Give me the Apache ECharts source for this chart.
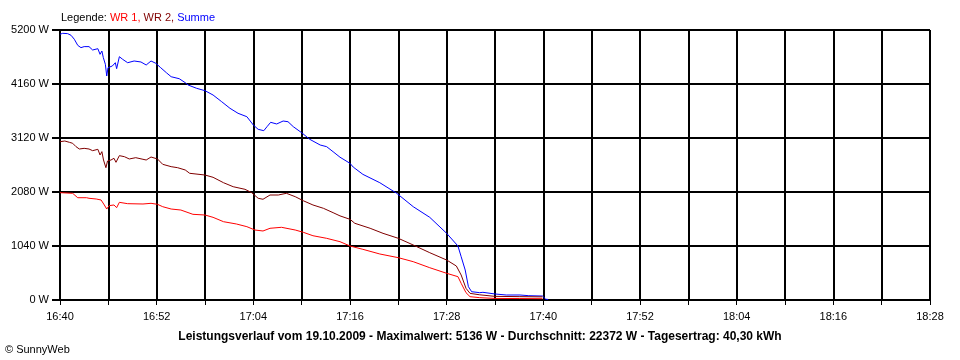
<!DOCTYPE html>
<html>
<head>
<meta charset="utf-8">
<script src="https://cdn.jsdelivr.net/npm/echarts@6/dist/echarts.min.js"></script>
<style>
html,body{margin:0;padding:0;background:#fff;}
#chart{width:960px;height:360px;}
</style>
</head>
<body>
<div id="chart"></div>
<script>
// Minutes after 16:40
var startMinutes = 16 * 60 + 40;
var xMin = 0, xMax = 108, xStep = 6, xLabelStep = 12;
var yTicks = [0, 1040, 2080, 3120, 4160, 5200];

var wr1Times = [0,1.57,2.2,3.3,3.6,4.5,5.1,5.5,5.8,6.1,6.7,7.03,7.37,8.4,10.3,11.3,12.1,12.75,13.8,15,16.5,18,19,20.3,21.9,23.2,24.2,25.2,26.07,27.5,29.2,30.2,31.4,33.1,34.76,36,37.6,39.7,42,43.85,45.9,48,49.4,49.8,50.4,50.9,52.1,54,57,59.9];
var wr1Values = [2067,2055,1970,1970,1959,1945,1926,1830,1752,1817,1830,1778,1881,1855,1849,1862,1843,1797,1752,1733,1650,1637,1592,1508,1464,1412,1348,1329,1381,1400,1348,1304,1238,1188,1123,1040,976,886,815,738,622,514,449,321,141,64,45,30,28,25];

var wr2Times = [0,0.6,1.16,1.57,1.99,2.4,3.0,3.6,4.05,4.7,4.97,5.2,5.4,5.7,5.9,6.33,6.7,6.95,7.37,8.0,8.6,9.4,10.3,10.7,11.3,12.1,12.75,13.8,14.6,15.55,16.1,18,19,20.3,21.5,22.96,23.8,24.6,25.2,26.07,27.1,28.1,29.2,30.2,31.4,32.7,33.9,34.76,36,36.6,38.5,40.1,42,43.85,45.9,48,49.2,49.8,50.4,50.9,52.1,54,57,59.9];
var wr2Values = [3049,3062,3037,3018,2953,2908,2921,2908,2876,2902,2793,2857,2696,2548,2677,2696,2729,2652,2780,2760,2716,2741,2710,2696,2754,2716,2613,2568,2548,2504,2440,2407,2363,2259,2182,2132,2067,1959,1940,2022,2022,2055,1990,1912,1830,1766,1682,1620,1554,1477,1381,1284,1188,1059,911,770,655,481,225,128,100,70,65,60];

var sumTimes = [0,0.33,0.95,1.37,1.78,2.2,2.6,3.0,3.6,4.05,4.7,4.97,5.2,5.38,5.63,5.8,5.96,6.12,6.5,6.87,7.03,7.37,7.78,8.4,9.2,10.05,10.7,11.3,11.9,12.5,13.2,13.8,14.0,14.8,15.55,15.9,16.96,18,19,20.07,21.1,22.1,23.2,24,24.6,24.8,25.3,25.7,26.15,26.9,27.7,28.3,28.96,30,31,32.3,33.1,33.9,34.76,36,36.4,37.6,39.7,41.8,43.85,45.9,48,49.4,49.8,50.3,50.7,51.1,52.1,52.5,54,55.4,57.1,58.2,59.9,60.3,60.6];
var sumValues = [5117,5136,5130,5098,5021,4905,4860,4880,4880,4815,4840,4732,4795,4667,4540,4314,4474,4493,4507,4570,4455,4686,4635,4570,4603,4584,4526,4603,4558,4474,4378,4300,4320,4262,4185,4141,4077,4031,3948,3819,3692,3596,3530,3370,3287,3300,3261,3338,3422,3390,3447,3434,3338,3222,3095,2985,2953,2856,2750,2632,2560,2420,2259,2055,1797,1592,1284,1040,834,578,256,160,141,148,116,96,96,83,77,15,10];

var legendPrefix = 'Legende: ';
var seriesNames = ['WR 1', 'WR 2', 'Summe'];
var seriesColors = ['#ff0000', '#800000', '#0000ff'];
var footerText = 'Leistungsverlauf vom 19.10.2009 - Maximalwert: 5136 W - Durchschnitt: 22372 W - Tagesertrag: 40,30 kWh';
var copyrightText = '\u00a9 SunnyWeb';

function pairs(t, v) { return t.map(function (x, i) { return [x, v[i]]; }); }
function fmtTime(m) {
  var tot = startMinutes + m;
  var h = Math.floor(tot / 60), mm = Math.round(tot % 60);
  return h + ':' + (mm < 10 ? '0' : '') + mm;
}

var FONT = '"Liberation Sans", Arial, sans-serif';
var chart = echarts.init(document.getElementById('chart'), null, {renderer: 'canvas'});

function mkSeries(name, color, t, v) {
  return {
    name: name, type: 'line', data: pairs(t, v), showSymbol: false, symbol: 'none',
    lineStyle: {color: color, width: 1}, itemStyle: {color: color}, animation: false, step: false
  };
}

chart.setOption({
  animation: false,
  backgroundColor: '#ffffff',
  grid: {left: 60, right: 30, top: 30, bottom: 60, containLabel: false},
  title: [{
    left: 61, top: 12, padding: 0,
    text: '{k|' + legendPrefix + '}{a|' + seriesNames[0] + ', }{b|' + seriesNames[1] + ', }{c|' + seriesNames[2] + '}',
    textStyle: {
      fontFamily: FONT, fontSize: 11, fontWeight: 'normal',
      rich: {
        k: {color: '#000', fontFamily: FONT, fontSize: 11},
        a: {color: seriesColors[0], fontFamily: FONT, fontSize: 11},
        b: {color: seriesColors[1], fontFamily: FONT, fontSize: 11},
        c: {color: seriesColors[2], fontFamily: FONT, fontSize: 11}
      }
    }
  }, {
    left: 480, textAlign: 'center', top: 331, padding: 0,
    text: footerText,
    textStyle: {fontFamily: FONT, fontSize: 12, fontWeight: 'bold', color: '#000'}
  }, {
    left: 5, top: 344, padding: 0,
    text: copyrightText,
    textStyle: {fontFamily: FONT, fontSize: 11, fontWeight: 'normal', color: '#000'}
  }],
  xAxis: {
    type: 'value', min: xMin, max: xMax, interval: xStep,
    axisLine: {show: true, onZero: false, lineStyle: {color: '#000', width: 1}},
    axisTick: {show: true, length: 5, lineStyle: {color: '#000', width: 1}},
    splitLine: {show: true, lineStyle: {color: '#000', width: 2}},
    axisLabel: {
      margin: 11, color: '#000', fontFamily: FONT, fontSize: 11, showMaxLabel: true, showMinLabel: true,
      formatter: function (v) { return (v % xLabelStep === 0) ? fmtTime(v) : ''; }
    }
  },
  yAxis: {
    type: 'value', min: yTicks[0], max: yTicks[yTicks.length - 1], interval: yTicks[1] - yTicks[0],
    axisLine: {show: true, lineStyle: {color: '#000', width: 1}},
    axisTick: {show: true, length: 8, lineStyle: {color: '#000', width: 2}},
    splitLine: {show: true, lineStyle: {color: '#000', width: 2}},
    axisLabel: {margin: 11, color: '#000', fontFamily: FONT, fontSize: 11,
      formatter: function (v) { return v + ' W'; }}
  },
  series: [
    mkSeries(seriesNames[2], seriesColors[2], sumTimes, sumValues),
    mkSeries(seriesNames[1], seriesColors[1], wr2Times, wr2Values),
    mkSeries(seriesNames[0], seriesColors[0], wr1Times, wr1Values)
  ]
});
</script>
</body>
</html>
